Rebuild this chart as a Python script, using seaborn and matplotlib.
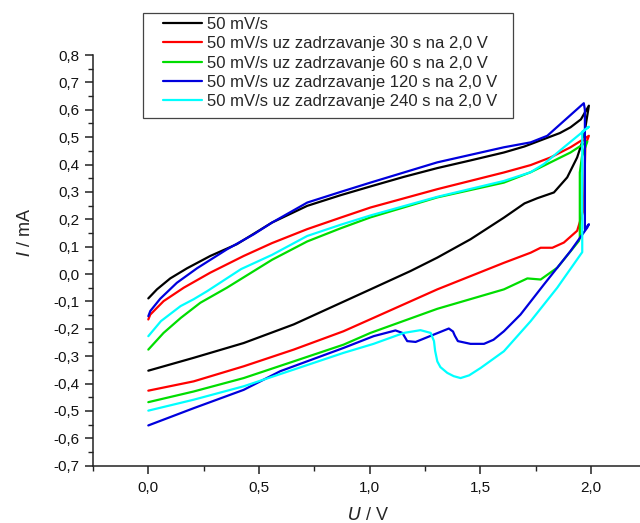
import numpy as np
import pandas as pd
import matplotlib
matplotlib.use("Agg")
import matplotlib.pyplot as plt
import seaborn as sns
from matplotlib.ticker import MultipleLocator, FuncFormatter
from matplotlib.patches import Rectangle

# series labels and colours
labels = ["50 mV/s",
          "50 mV/s uz zadrzavanje 30 s na 2,0 V",
          "50 mV/s uz zadrzavanje 60 s na 2,0 V",
          "50 mV/s uz zadrzavanje 120 s na 2,0 V",
          "50 mV/s uz zadrzavanje 240 s na 2,0 V"]
colors = ["#000000", "#ff0000", "#00dd00", "#0000dd", "#00ffff"]

# 50 mV/s (anodic sweep to 2 V, then cathodic back to 0 V)
U_0 = [0.0, 0.039, 0.099, 0.175, 0.280, 0.400, 0.559, 0.718, 0.869, 1.004, 1.155, 1.306, 1.456,
       1.607, 1.700, 1.788, 1.860, 1.908, 1.955, 1.991,
       1.968, 1.938, 1.893, 1.833, 1.758, 1.700, 1.607, 1.456, 1.306, 1.185, 1.004, 0.882, 0.657,
       0.431, 0.205, 0.0]
I_0 = [-0.089, -0.056, -0.016, 0.021, 0.066, 0.109, 0.188, 0.249, 0.288, 0.320, 0.355, 0.387, 0.415,
       0.444, 0.466, 0.493, 0.515, 0.536, 0.565, 0.615,
       0.500, 0.426, 0.353, 0.298, 0.277, 0.258, 0.206, 0.127, 0.060, 0.011, -0.056, -0.101, -0.184,
       -0.252, -0.306, -0.353]

# 30 s hold at 2,0 V
U_30 = [0.0, 0.009, 0.069, 0.160, 0.280, 0.431, 0.559, 0.718, 0.869, 1.004, 1.306, 1.607, 1.728,
        1.818, 1.908, 1.991,
        1.975, 1.970, 1.968, 1.938, 1.878, 1.826, 1.773, 1.728, 1.607, 1.306, 1.018, 0.882, 0.657,
        0.431, 0.205, 0.0]
I_30 = [-0.166, -0.148, -0.099, -0.050, 0.005, 0.066, 0.113, 0.164, 0.206, 0.243, 0.310, 0.371, 0.398,
        0.426, 0.463, 0.505,
        0.470, 0.300, 0.237, 0.158, 0.115, 0.096, 0.096, 0.078, 0.041, -0.056, -0.160, -0.209, -0.276,
        -0.337, -0.392, -0.426]

# 60 s hold at 2,0 V
U_60 = [0.0, 0.069, 0.147, 0.235, 0.355, 0.477, 0.559, 0.718, 0.869, 1.004, 1.306, 1.607, 1.728,
        1.788, 1.908, 1.984,
        1.960, 1.950, 1.950, 1.946, 1.848, 1.773, 1.713, 1.607, 1.306, 1.004, 0.882, 0.657, 0.431,
        0.205, 0.0]
I_60 = [-0.276, -0.215, -0.160, -0.105, -0.050, 0.011, 0.052, 0.119, 0.167, 0.207, 0.280, 0.334, 0.372,
        0.396, 0.444, 0.484,
        0.430, 0.371, 0.133, 0.121, 0.023, -0.020, -0.016, -0.056, -0.127, -0.215, -0.258, -0.319, -0.380,
        -0.429, -0.468]

# 120 s hold at 2,0 V
U_120 = [0.0, 0.009, 0.054, 0.129, 0.220, 0.355, 0.476, 0.559, 0.718, 0.869, 1.004, 1.306, 1.607,
         1.728, 1.803, 1.968,
         1.973, 1.973, 1.991, 1.984, 1.908, 1.788, 1.682, 1.607, 1.560, 1.517, 1.456, 1.399, 1.385,
         1.377, 1.358, 1.208, 1.170, 1.148, 1.117, 1.018, 0.882, 0.596, 0.431, 0.205, 0.0]
I_120 = [-0.154, -0.135, -0.090, -0.032, 0.021, 0.090, 0.145, 0.188, 0.261, 0.300, 0.334, 0.408, 0.463,
         0.481, 0.505, 0.624,
         0.600, 0.164, 0.182, 0.170, 0.084, -0.038, -0.148, -0.209, -0.240, -0.255, -0.255, -0.245, -0.225,
         -0.210, -0.199, -0.248, -0.245, -0.215, -0.206, -0.227, -0.270, -0.355, -0.423, -0.490, -0.553]

# 240 s hold at 2,0 V
U_240 = [0.0, 0.057, 0.146, 0.205, 0.267, 0.419, 0.559, 0.718, 0.869, 1.004, 1.306, 1.607, 1.728,
         1.788, 1.878, 1.991,
         1.961, 1.961, 1.954, 1.848, 1.728, 1.607, 1.502, 1.450, 1.411, 1.380, 1.351, 1.320, 1.306,
         1.296, 1.291, 1.276, 1.230, 1.155, 1.018, 0.882, 0.657, 0.431, 0.205, 0.0]
I_240 = [-0.227, -0.172, -0.117, -0.092, -0.062, 0.018, 0.070, 0.139, 0.180, 0.214, 0.282, 0.340, 0.372,
         0.402, 0.463, 0.538,
         0.520, 0.080, 0.072, -0.050, -0.172, -0.282, -0.343, -0.370, -0.380, -0.373, -0.361, -0.340, -0.319,
         -0.280, -0.245, -0.215, -0.205, -0.215, -0.255, -0.288, -0.349, -0.410, -0.459, -0.499]

curves = [(U_0, I_0), (U_30, I_30), (U_60, I_60), (U_120, I_120), (U_240, I_240)]
frames = []
for lab, (u, i) in zip(labels, curves):
    frames.append(pd.DataFrame({"U": u, "I": i, "series": lab}))
df = pd.concat(frames, ignore_index=True)

sns.set_style("ticks")
plt.rcParams['font.family'] = ['Liberation Sans', 'DejaVu Sans']

fig = plt.figure(figsize=(6.4, 5.23), dpi=100)
ax = fig.add_axes([0.1453, 0.1096, 0.8547, 0.7852])

sns.lineplot(data=df, x="U", y="I", hue="series", hue_order=labels,
             palette=dict(zip(labels, colors)), sort=False, estimator=None,
             linewidth=1.6, ax=ax, legend=False)

ax.set_xlim(-0.25, 2.222)
ax.set_ylim(-0.7, 0.8)
ax.xaxis.set_major_locator(MultipleLocator(0.5))
ax.xaxis.set_minor_locator(MultipleLocator(0.25))
ax.yaxis.set_major_locator(MultipleLocator(0.1))
ax.yaxis.set_minor_locator(MultipleLocator(0.05))
comma = FuncFormatter(lambda v, p: f"{v:.1f}".replace(".", ","))
ax.xaxis.set_major_formatter(comma)
ax.yaxis.set_major_formatter(comma)
ax.tick_params(which="major", length=6, width=1.1, direction="out", labelsize=11,
               pad=3.5, colors="#222222", labelcolor="#111111")
ax.tick_params(which="minor", length=3.6, width=1.0, direction="out", colors="#222222")
ax.tick_params(axis="x", which="major", pad=5)
for side in ["top", "right"]:
    ax.spines[side].set_visible(False)
for side in ["left", "bottom"]:
    ax.spines[side].set_linewidth(1.1)
    ax.spines[side].set_color("#222222")

ax.set_xlabel("$\\it{U}$ / V", fontsize=13)
ax.set_ylabel("$\\it{I}$ / mA", fontsize=13)
ax.xaxis.set_label_coords(0.503, -0.101)
ax.yaxis.set_label_coords(-0.108, 0.568)

# legend box drawn separately (wider side padding than top/bottom)
fig.patches.append(Rectangle((143 / 640, 1 - 118 / 523), 370 / 640, 105 / 523,
                             transform=fig.transFigure, facecolor="white",
                             edgecolor="#444444", linewidth=0.9, zorder=5))
handles = [plt.Line2D([], [], color=c, linewidth=1.6) for c in colors]
leg = fig.legend(handles, labels, loc="upper left", bbox_to_anchor=(163 / 640, 1 - 17 / 523),
                 fontsize=12, frameon=False, handlelength=2.34, handletextpad=0.28,
                 labelspacing=0.26, borderpad=0, borderaxespad=0)
leg.set_zorder(6)

fig.savefig("out.png", dpi=100)
